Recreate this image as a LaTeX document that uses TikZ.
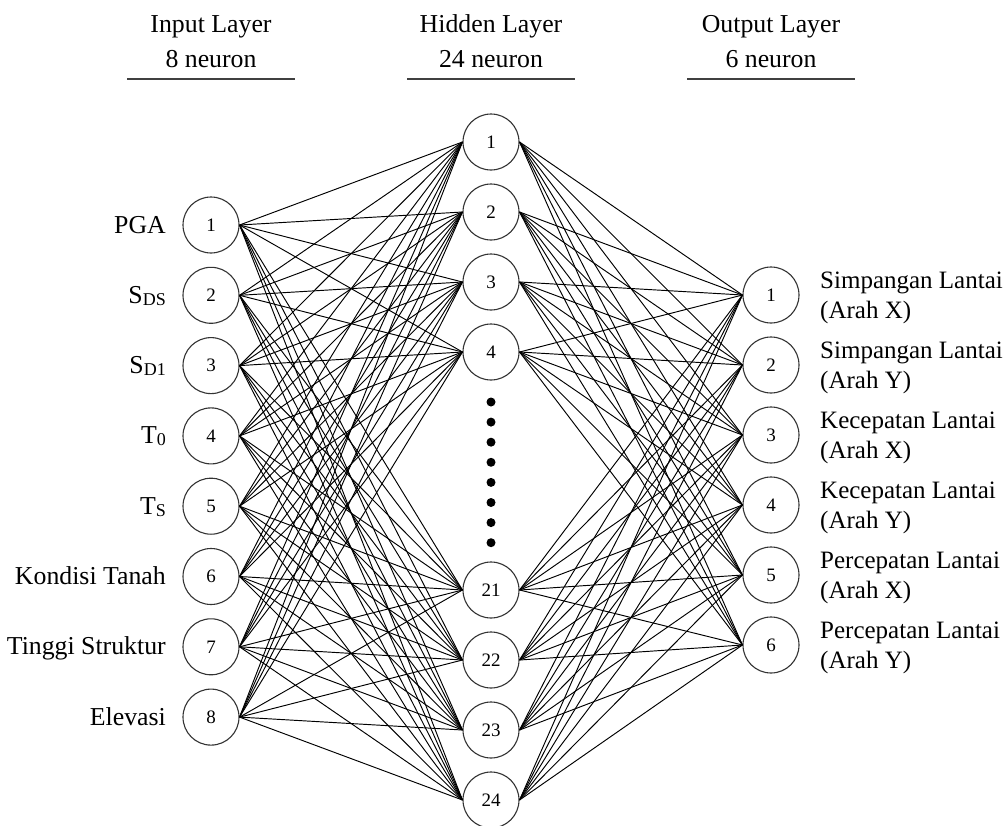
\documentclass[tikz,border=0pt]{standalone}
\usepackage{fontspec}
\setmainfont{Liberation Serif}
\newcommand\lsub[1]{\raisebox{-2pt}{\fontsize{18}{18}\selectfont #1}}
\begin{document}
\begin{tikzpicture}[x=1pt,y=-1pt,
  neuron/.style={circle,draw=black!80,line width=1.1pt,minimum size=56pt,inner sep=0pt,font=\fontsize{19}{19}\selectfont},
  conn/.style={line width=0.95pt,black},
  lbl/.style={font=\fontsize{25.8}{30}\selectfont,inner sep=0pt},
  olbl/.style={font=\fontsize{25}{30}\selectfont,inner sep=0pt},
  hline/.style={line width=2.5pt,black!75},
  dotmark/.style={fill=black}]
\useasboundingbox (0,0) rectangle (1007,825);
% input layer
\foreach \i in {1,...,8} {
  \pgfmathsetmacro\yy{225+70.3*(\i-1)}
  \node[neuron] (in\i) at (211,\yy) {\i};
}
% hidden layer
\foreach \i/\n/\y in {1/1/142,2/2/212,3/3/282,4/4/352,5/21/590,6/22/660,7/23/730,8/24/800}
  \node[neuron] (h\i) at (491,\y) {\n};
% output layer
\foreach \i in {1,...,6} {
  \pgfmathsetmacro\yy{295+70*(\i-1)}
  \node[neuron] (out\i) at (771,\yy) {\i};
}
% connections
\foreach \i in {1,...,8}
  \foreach \j in {1,...,8}
    \draw[conn] (in\i.east) -- (h\j.west);
\foreach \j in {1,...,8}
  \foreach \k in {1,...,6}
    \draw[conn] (h\j.east) -- (out\k.west);
% dots
\foreach \k in {0,...,7}
  \fill[dotmark] (491,{402+20.1*\k}) circle (4.5);
% input labels
\foreach \i/\t in {1/PGA,2/{S\lsub{DS}},3/{S\lsub{D1}},4/{T\lsub{0}},5/{T\lsub{S}},6/Kondisi Tanah,7/Tinggi Struktur,8/Elevasi}
  \path (in\i.center) ++(-45,8) node[lbl,anchor=base east] (lab\i) {\t};
% output labels
\foreach \k/\a/\b in {1/Simpangan Lantai/X,2/Simpangan Lantai/Y,3/Kecepatan Lantai/X,4/Kecepatan Lantai/Y,5/Percepatan Lantai/X,6/Percepatan Lantai/Y}
  \path (out\k.center) ++(49,-7) node[olbl,anchor=base west] (ta\k) {\a}
        ++(0,30) node[olbl,anchor=base west] (tb\k) {(Arah \b)};
% headers
\foreach \x/\a/\b/\n in {211/Input Layer/8 neuron/inp,491/Hidden Layer/24 neuron/hid,771/Output Layer/6 neuron/outp} {
  \node[lbl,anchor=base] (\n a) at (\x,32) {\a};
  \node[lbl,anchor=base] (\n b) at (\x,67) {\b};
  \draw[hline] (\x-84,79) -- (\x+84,79);
}
\end{tikzpicture}
\end{document}
